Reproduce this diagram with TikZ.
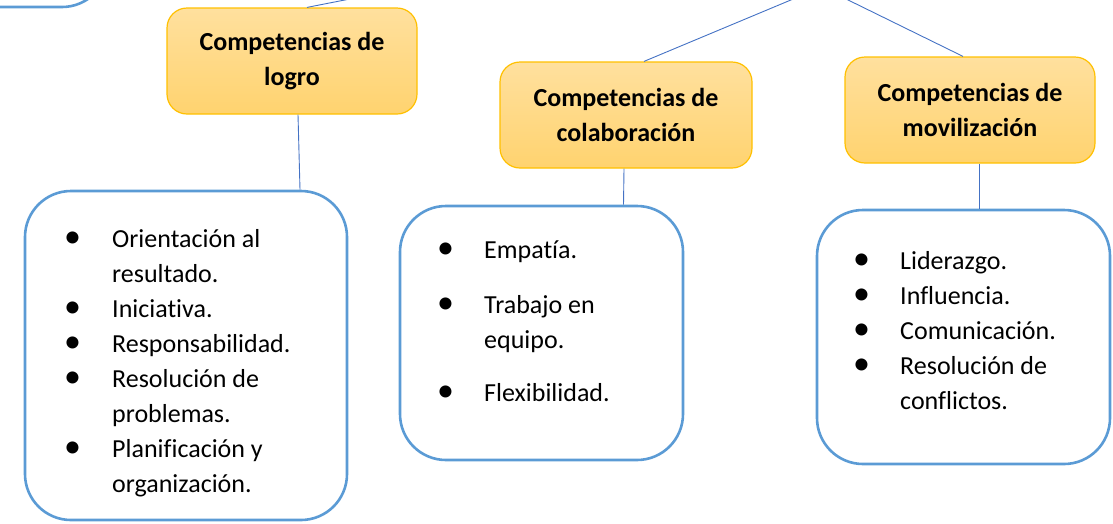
\documentclass[tikz,border=0pt]{standalone}
\usepackage{fontspec}
\setmainfont{Carlito}[Ligatures={NoCommon,NoRare}]
\usetikzlibrary{positioning}

\definecolor{listblue}{HTML}{5B9BD5}
\definecolor{linkblue}{HTML}{4472C4}
\definecolor{goldline}{HTML}{FFC000}
\definecolor{titletop}{HTML}{FFE09E}
\definecolor{titlebot}{HTML}{FFD36F}
\newcommand{\bigfont}{\fontsize{26}{35}\selectfont}
\newcommand{\bul}{{\fontsize{34}{35}\selectfont\textbullet}}

\begin{document}
\begin{tikzpicture}[x=1pt,y=-1pt,
        title box/.style={draw=goldline,line width=1.2pt,rounded corners=20pt,
          top color=titletop,bottom color=titlebot,minimum width=250pt,
          minimum height=106pt,align=center,font=\bigfont\bfseries},
        list box/.style={draw=listblue,line width=2.6pt,rounded corners=46pt,fill=white},
        link/.style={draw=linkblue,line width=0.9pt},
        items/.style={anchor=base west,inner sep=0pt,font=\bigfont}]
        \useasboundingbox (0,0) rectangle (1113,523);
        \clip (0,0) rectangle (1113,523);

        % caja cortada arriba a la izquierda
        \node[list box, minimum width=360pt, minimum height=220pt] (arriba) at (-72,-103) {};
        \coordinate (raiz1) at (360,-3);
        \coordinate (raiz2) at (798,-3);
        \coordinate (raiz3) at (842,-3);

        % titulos
        \node[title box] (logro) at (292,61) {Competencias de\\logro};
        \node[title box, minimum width=252pt] (colab) at (626,115) {Competencias de\\colaboración};
        \node[title box] (movil) at (970,110) {Competencias de\\movilización};

        % listas
        \node[list box, minimum width=322pt, minimum height=329pt] (lista1) at (186,355.5) {};
        \node[list box, minimum width=283pt, minimum height=254pt] (lista2) at (541.5,333) {};
        \node[list box, minimum width=293pt, minimum height=254pt] (lista3) at (963.5,337) {};

        \node[items] (txt1) at (64,247) {\begin{tabular}[t]{@{}p{48pt}@{}l@{}}
          \bul & Orientación al\\
               & resultado.\\
          \bul & Iniciativa.\\
          \bul & Responsabilidad.\\
          \bul & Resolución de\\
               & problemas.\\
          \bul & Planificación y\\
               & organización.
        \end{tabular}};
        \node[items] (txt2) at (437,258) {\begin{tabular}[t]{@{}p{47pt}@{}l@{}}
          \bul & Empatía.\\[20pt]
          \bul & Trabajo en\\
               & equipo.\\[18pt]
          \bul & Flexibilidad.
        \end{tabular}};
        \node[items] (txt3) at (853,269) {\begin{tabular}[t]{@{}p{47pt}@{}l@{}}
          \bul & Liderazgo.\\
          \bul & Influencia.\\
          \bul & Comunicación.\\
          \bul & Resolución de\\
               & conflictos.
        \end{tabular}};

        % conectores
        \draw[link] ([xshift=15pt]logro.north) -- (raiz1);
        \draw[link] ([xshift=18pt]colab.north) -- (raiz2);
        \draw[link] ([xshift=-7pt]movil.north) -- (raiz3);
        \draw[link] ([xshift=6pt]logro.south) -- ([xshift=114pt]lista1.north);
        \draw[link] ([xshift=-2pt]colab.south) -- ([xshift=82pt]lista2.north);
        \draw[link] ([xshift=9pt]movil.south) -- ([xshift=15.5pt]lista3.north);
\end{tikzpicture}
\end{document}
